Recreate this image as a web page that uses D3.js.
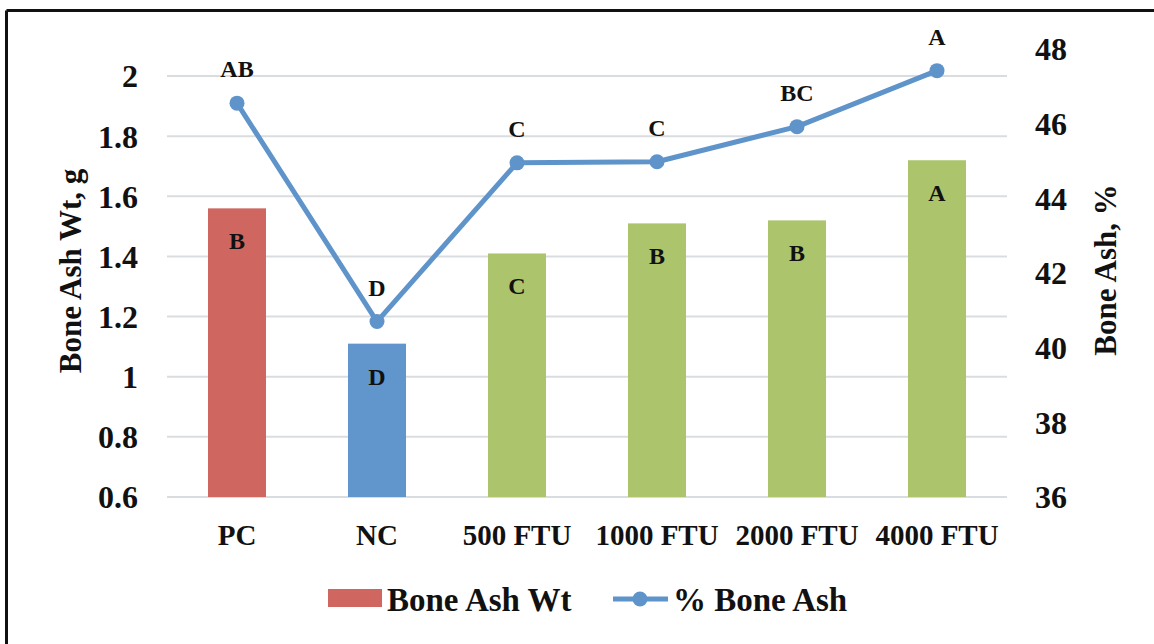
<!DOCTYPE html>
<html>
<head>
<meta charset="utf-8">
<script src="https://cdn.jsdelivr.net/npm/d3@7"></script>
<style>
  html, body { margin: 0; padding: 0; background: #fff; }
  svg { display: block; }
  text { font-family: "Liberation Serif", "Times New Roman", serif; font-weight: bold; fill: #111; }
</style>
</head>
<body>
<svg id="chart" width="1154" height="644"></svg>
<script>
const categories = ["PC", "NC", "500 FTU", "1000 FTU", "2000 FTU", "4000 FTU"];
const boneAshWt = [1.56, 1.11, 1.41, 1.51, 1.52, 1.72];
const boneAshPct = [46.55, 40.70, 44.95, 44.98, 45.92, 47.42];
const barLetters = ["B", "D", "C", "B", "B", "A"];
const lineLetters = ["AB", "D", "C", "C", "BC", "A"];
const leftTicks = [0.6, 0.8, 1.0, 1.2, 1.4, 1.6, 1.8, 2.0];
const rightTicks = [36, 38, 40, 42, 44, 46, 48];
const seriesNames = ["Bone Ash Wt", "% Bone Ash"];
const leftTitle = "Bone Ash Wt, g";
const rightTitle = "Bone Ash, %";

const barColors = ["#cf6660", "#6096cc", "#acc46c", "#acc46c", "#acc46c", "#acc46c"];
const lineColor = "#5f94cb";
const gridColor = "#dadddf";

const svg = d3.select("#chart");
const plot = { left: 167, right: 1007, top: 49, bottom: 497 };

const x = d3.scaleBand().domain(categories).range([plot.left, plot.right]).padding(0);
const barW = 58;
const yL = d3.scaleLinear().domain([0.6, 2.09]).range([plot.bottom, plot.top]);
const yR = d3.scaleLinear().domain([36, 48]).range([plot.bottom, plot.top]);
const cx = c => x(c) + x.bandwidth() / 2;

// border (top and left edges visible)
svg.append("line").attr("x1", 6.5).attr("x2", 1154).attr("y1", 10.5).attr("y2", 10.5)
  .attr("stroke", "#111").attr("stroke-width", 3);
svg.append("line").attr("x1", 6.5).attr("x2", 6.5).attr("y1", 10.5).attr("y2", 644)
  .attr("stroke", "#111").attr("stroke-width", 3);

// gridlines
svg.append("g").selectAll("line").data(leftTicks).join("line")
  .attr("x1", plot.left).attr("x2", plot.right)
  .attr("y1", d => yL(d)).attr("y2", d => yL(d))
  .attr("stroke", gridColor).attr("stroke-width", 2);

// left axis labels
const leftAxis = d3.axisLeft(yL).tickValues(leftTicks).tickFormat(d => d3.format("")(+d.toFixed(1))).tickSize(0).tickPadding(0);
const gL = svg.append("g").attr("transform", "translate(138,0)").call(leftAxis);
gL.select(".domain").remove();
gL.selectAll("text").attr("font-size", 32).attr("font-family", "Liberation Serif").attr("font-weight", "bold").attr("fill", "#111").attr("dy", "0.34em");

// right axis labels
const rightAxis = d3.axisRight(yR).tickValues(rightTicks).tickFormat(d3.format("d")).tickSize(0).tickPadding(0);
const gR = svg.append("g").attr("transform", "translate(1035,0)").call(rightAxis);
gR.select(".domain").remove();
gR.selectAll("text").attr("font-size", 32).attr("font-family", "Liberation Serif").attr("font-weight", "bold").attr("fill", "#111").attr("dy", "0.34em");

// x category labels
const xAxis = d3.axisBottom(x).tickSize(0).tickPadding(0);
const gX = svg.append("g").attr("transform", "translate(0,545)").call(xAxis);
gX.select(".domain").remove();
gX.selectAll("text").attr("font-size", 29).attr("font-family", "Liberation Serif").attr("font-weight", "bold").attr("fill", "#111").attr("dy", 0).attr("y", 0);

// bars
svg.append("g").selectAll("rect").data(categories).join("rect")
  .attr("x", c => cx(c) - barW / 2)
  .attr("width", barW)
  .attr("y", (c, i) => yL(boneAshWt[i]))
  .attr("height", (c, i) => yL(0.6) - yL(boneAshWt[i]))
  .attr("fill", (c, i) => barColors[i]);

// bar letters
svg.append("g").selectAll("text").data(categories).join("text")
  .attr("x", c => cx(c))
  .attr("y", (c, i) => yL(boneAshWt[i]) + 41)
  .attr("text-anchor", "middle").attr("font-size", 24)
  .text((c, i) => barLetters[i]);

// line
const line = d3.line().x(d => cx(d.c)).y(d => yR(d.v));
const pts = categories.map((c, i) => ({ c, v: boneAshPct[i] }));
svg.append("path").datum(pts).attr("d", line)
  .attr("fill", "none").attr("stroke", lineColor).attr("stroke-width", 5)
  .attr("stroke-linejoin", "round");
svg.append("g").selectAll("circle").data(pts).join("circle")
  .attr("cx", d => cx(d.c)).attr("cy", d => yR(d.v)).attr("r", 7.5)
  .attr("fill", lineColor);

// line letters
svg.append("g").selectAll("text").data(pts).join("text")
  .attr("x", d => cx(d.c))
  .attr("y", d => yR(d.v) - 26)
  .attr("text-anchor", "middle").attr("font-size", 24)
  .text((d, i) => lineLetters[i]);

// axis titles
svg.append("text").attr("transform", "translate(81,271) rotate(-90)")
  .attr("text-anchor", "middle").attr("font-size", 31).text(leftTitle);
svg.append("text").attr("transform", "translate(1116,270) rotate(-90)")
  .attr("text-anchor", "middle").attr("font-size", 31).text(rightTitle);

// legend
const lg = svg.append("g");
lg.append("rect").attr("x", 328).attr("y", 589).attr("width", 54).attr("height", 18).attr("fill", barColors[0]);
lg.append("text").attr("x", 387).attr("y", 611).attr("font-size", 33).text(seriesNames[0]);
lg.append("line").attr("x1", 613).attr("x2", 668).attr("y1", 599).attr("y2", 599)
  .attr("stroke", lineColor).attr("stroke-width", 5);
lg.append("circle").attr("cx", 640).attr("cy", 599).attr("r", 7.5).attr("fill", lineColor);
lg.append("text").attr("x", 673).attr("y", 611).attr("font-size", 33).text(seriesNames[1]);
</script>
</body>
</html>
